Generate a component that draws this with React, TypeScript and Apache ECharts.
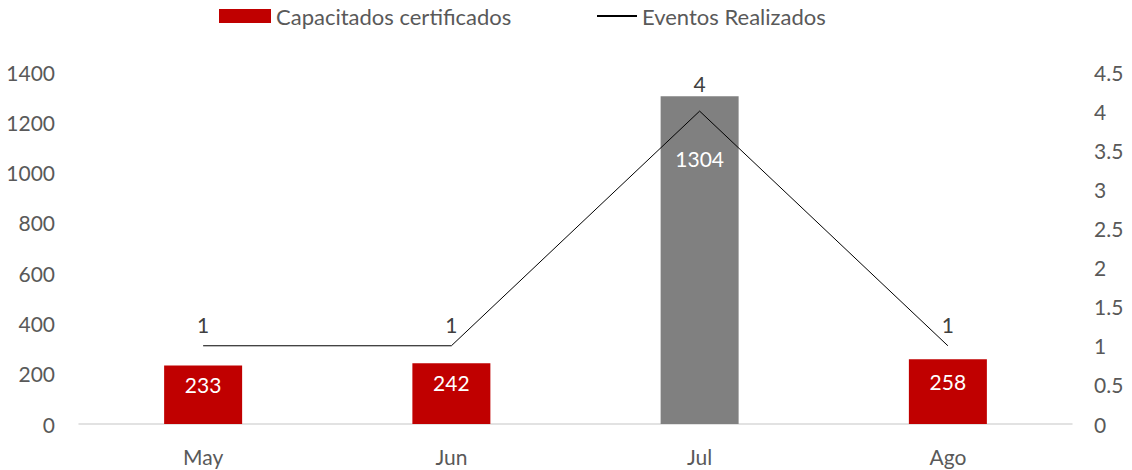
import React, { useEffect, useRef } from "react";
import * as echarts from "echarts";

const categories = ["May", "Jun", "Jul", "Ago"];
const capacitados = [233, 242, 1304, 258];
const eventos = [1, 1, 4, 1];
const leftTicks = { min: 0, max: 1400, interval: 200 };
const rightTicks = { min: 0, max: 4.5, interval: 0.5 };

const barColors = ["#C00000", "#C00000", "#808080", "#C00000"];
const barLabelDistance = [9, 9, 52, 12];
const lineLabelShift = [0, 0, -7, 0];

const FONT = "Lato";
const TEXT = "#595959";
const AXIS_FS = 21;

export default function App() {
  const ref = useRef<HTMLDivElement>(null);
  useEffect(() => {
    document.body.style.margin = "0";
    const chart = echarts.init(ref.current!, undefined, { renderer: "svg" });
    chart.setOption({
      animation: false,
      textStyle: { fontFamily: FONT },
      legend: [
        {
          data: ["Capacitados certificados"],
          left: 219,
          top: 5,
          padding: 0,
          itemWidth: 52,
          itemHeight: 14,
          icon: "rect",
          textStyle: { color: TEXT, fontSize: 22, fontFamily: FONT },
        },
        {
          data: ["Eventos Realizados"],
          left: 596,
          top: 5,
          padding: 0,
          itemWidth: 40,
          itemHeight: 14,
          textStyle: { color: TEXT, fontSize: 22, fontFamily: FONT },
        },
      ],
      grid: { left: 79, right: 60, top: 72, bottom: 46, containLabel: false },
      xAxis: {
        type: "category",
        data: categories,
        boundaryGap: true,
        axisLine: { lineStyle: { color: "#D9D9D9", width: 1.5 } },
        axisTick: { show: false },
        axisLabel: { color: TEXT, fontSize: AXIS_FS, margin: 22, fontFamily: FONT },
      },
      yAxis: [
        {
          type: "value",
          ...leftTicks,
          splitLine: { show: false },
          axisLine: { show: false },
          axisTick: { show: false },
          axisLabel: {
            color: TEXT,
            fontSize: AXIS_FS,
            margin: 24,
            fontFamily: FONT,
            formatter: (v: number) => String(v),
          },
        },
        {
          type: "value",
          ...rightTicks,
          splitLine: { show: false },
          axisLine: { show: false },
          axisTick: { show: false },
          axisLabel: {
            color: TEXT,
            fontSize: AXIS_FS,
            margin: 22,
            fontFamily: FONT,
            formatter: (v: number) => String(v),
          },
        },
      ],
      series: [
        {
          name: "Capacitados certificados",
          type: "bar",
          barWidth: 78,
          itemStyle: { color: "#C00000" },
          data: capacitados.map((v, i) => ({
            value: v,
            itemStyle: { color: barColors[i] },
            label: { distance: barLabelDistance[i] },
          })),
          label: {
            show: true,
            position: "insideTop",
            color: "#FFFFFF",
            fontSize: AXIS_FS,
            fontFamily: FONT,
          },
        },
        {
          name: "Eventos Realizados",
          type: "line",
          yAxisIndex: 1,
          symbol: "circle",
          symbolSize: 1,
          showSymbol: true,
          lineStyle: { color: "#000000", width: 1 },
          itemStyle: { color: "rgba(0,0,0,0)" },
          data: eventos.map((v, i) => ({
            value: v,
            label: { offset: [0, lineLabelShift[i]] },
          })),
          label: {
            show: true,
            position: "top",
            distance: 10,
            color: "#404040",
            fontSize: AXIS_FS,
            fontFamily: FONT,
          },
        },
      ],
    });
    return () => chart.dispose();
  }, []);
  return <div ref={ref} style={{ width: 1132, height: 470 }} />;
}
